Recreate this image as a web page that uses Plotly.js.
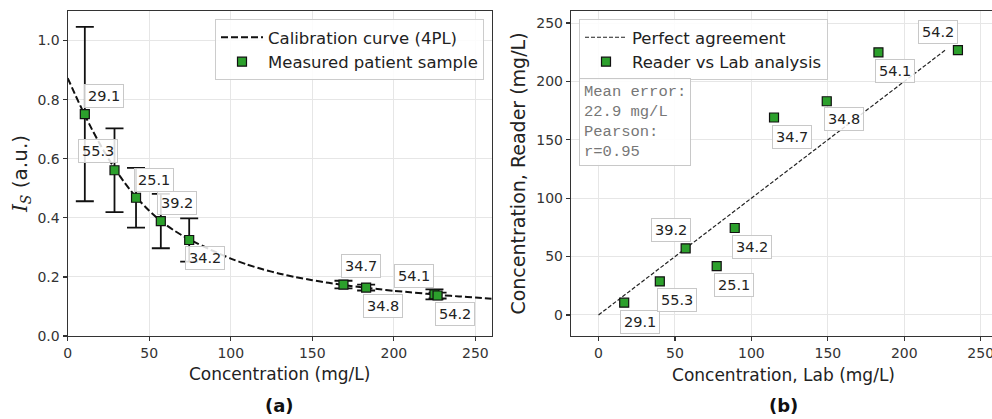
<!DOCTYPE html>
<html><head><meta charset="utf-8">
<script src="https://cdn.plot.ly/plotly-3.0.1.min.js"></script>
<style>html,body{margin:0;padding:0;overflow:hidden;background:#fff}#chart{width:996px;height:419px}</style>
</head><body><div id="chart"></div>
<script>
// ---- data ----
const sampleLabels = ['29.1','55.3','25.1','39.2','34.2','34.7','34.8','54.1','54.2'];
const readerConc   = [10.5, 28.7, 41.9, 57.1, 74.5, 169.1, 183.0, 224.9, 226.8];
const signalIS     = [0.751, 0.561, 0.468, 0.389, 0.325, 0.174, 0.164, 0.141, 0.137];
const signalErr    = [0.295, 0.142, 0.101, 0.092, 0.073, 0.013, 0.010, 0.017, 0.010];
const labConc      = [16.8, 40.1, 77.3, 57.0, 89.1, 114.8, 149.3, 183.1, 235.1];
const curveConc    = [0, 5, 10, 15, 20, 25, 30, 35, 40, 45, 50, 55, 60, 65, 70, 75, 80, 90, 100, 110, 120, 130, 140, 150, 160, 170, 180, 190, 200, 210, 220, 230, 240, 250, 260];
const curveSignal  = [0.873, 0.812, 0.753, 0.698, 0.647, 0.600, 0.557, 0.518, 0.483, 0.452, 0.424, 0.399, 0.377, 0.358, 0.341, 0.326, 0.312, 0.286, 0.262, 0.242, 0.225, 0.211, 0.199, 0.189, 0.180, 0.172, 0.165, 0.159, 0.153, 0.148, 0.143, 0.138, 0.134, 0.130, 0.126];
const perfectLine  = [0, 227];
const xTicksA = [0, 50, 100, 150, 200, 250];
const yTicksA = [0, 0.2, 0.4, 0.6, 0.8, 1.0];
const ticksB  = [0, 50, 100, 150, 200, 250];
const statsText = ['Mean error:', '22.9 mg/L', 'Pearson:', 'r=0.95'];

// ---- label placement (pixel offsets, style only) ----
const offsA = [[19,18],[-17,19],[18,18],[16,18],[16,-18],[18,19],[17,-18],[-20,18],[17,-18]];
const offsB = [[16,-19],[17,-19],[17,-19],[-15,18],[17,-19],[18,-19],[17,-18],[17,-19],[-20,18]];

const FONT = 'DejaVu Sans, sans-serif';
const GREEN = '#2ca02c';
const W = 996;

const traces = [
  {x: curveConc, y: curveSignal, xaxis:'x', yaxis:'y', mode:'lines', name:'Calibration curve (4PL)',
   line:{color:'#111', width:2, dash:'7px,3px', shape:'spline', smoothing:0.6}, legend:'legend'},
  {x: readerConc, y: signalIS, xaxis:'x', yaxis:'y', mode:'markers', name:'Measured patient sample',
   error_y:{type:'data', array: signalErr, visible:true, color:'#111', thickness:1.8, width:9},
   marker:{symbol:'square', size:9, color:GREEN, line:{color:'#111', width:1.2}}, legend:'legend'},
  {x: perfectLine, y: perfectLine, xaxis:'x2', yaxis:'y2', mode:'lines', name:'Perfect agreement',
   line:{color:'#222', width:1.2, dash:'4px,2px'}, legend:'legend2'},
  {x: labConc, y: readerConc, xaxis:'x2', yaxis:'y2', mode:'markers', name:'Reader vs Lab analysis',
   marker:{symbol:'square', size:9, color:GREEN, line:{color:'#111', width:1.2}}, legend:'legend2'}
];

const annotations = [];
sampleLabels.forEach((t, i) => {
  annotations.push({xref:'x', yref:'y', x: readerConc[i], y: signalIS[i], text: t, showarrow:false,
    xshift: offsA[i][0], yshift: offsA[i][1], font:{family:FONT, size:14.5, color:'#222'},
    bgcolor:'rgba(255,255,255,0.85)', bordercolor:'#c8c8c8', borderwidth:1, borderpad:3});
  annotations.push({xref:'x2', yref:'y2', x: labConc[i], y: readerConc[i], text: t, showarrow:false,
    xshift: offsB[i][0], yshift: offsB[i][1], font:{family:FONT, size:14.5, color:'#222'},
    bgcolor:'rgba(255,255,255,0.85)', bordercolor:'#c8c8c8', borderwidth:1, borderpad:3});
});
annotations.push({xref:'x2', yref:'y2', x:-13, y:203.3, xanchor:'left', yanchor:'top', align:'left',
  text: statsText.join('<br>'), showarrow:false,
  font:{family:'Liberation Mono, monospace', size:15.5, color:'#777'},
  bgcolor:'rgba(255,255,255,0.9)', bordercolor:'#c8c8c8', borderwidth:1, borderpad:4});
annotations.push({xref:'paper', yref:'paper', x:279.5/W, y:(336-405)/325, xanchor:'center', yanchor:'middle',
  text:'<b>(a)</b>', showarrow:false, font:{family:FONT, size:18, color:'#111'}});
annotations.push({xref:'paper', yref:'paper', x:783/W, y:(336-405)/325, xanchor:'center', yanchor:'middle',
  text:'<b>(b)</b>', showarrow:false, font:{family:FONT, size:18, color:'#111'}});

const axCommon = {showline:true, linecolor:'#333', linewidth:1.2, mirror:true, ticks:'outside', ticklen:4,
  tickcolor:'#333', tickwidth:1.2, showgrid:true, gridcolor:'#e6e6e6', gridwidth:1, zeroline:false,
  tickfont:{family:FONT, size:14, color:'#333'}, automargin:false};

const layout = {
  width: W, height: 419,
  margin:{l:0, r:0, t:11, b:83},
  paper_bgcolor:'#fff', plot_bgcolor:'#fff',
  font:{family:FONT},
  xaxis: Object.assign({}, axCommon, {domain:[67.7/W, 491.7/W], range:[0, 260], tickvals:xTicksA,
    title:{text:'Concentration (mg/L)', font:{family:FONT, size:17, color:'#222'}, standoff:8}}),
  yaxis: Object.assign({}, axCommon, {domain:[0,1], range:[0, 1.1], tickvals:yTicksA, tickformat:'.1f',
    title:{text:'<span style="font-family:DejaVu Serif"><i>I<sub>S</sub></i></span> (a.u.)', font:{family:FONT, size:20, color:'#222'}, standoff:4}}),
  xaxis2: Object.assign({}, axCommon, {domain:[571/W, 1], range:[-18, 260], tickvals:ticksB, anchor:'y2',
    title:{text:'Concentration, Lab (mg/L)', font:{family:FONT, size:17, color:'#222'}, standoff:9}}),
  yaxis2: Object.assign({}, axCommon, {domain:[0,1], range:[-18, 260.3], tickvals:ticksB, anchor:'x2',
    title:{text:'Concentration, Reader (mg/L)', font:{family:FONT, size:19, color:'#222'}, standoff:5}}),
  showlegend:true,
  legend:{x:484/W, xanchor:'right', y:(336-19)/325, yanchor:'top', bgcolor:'rgba(255,255,255,0.85)',
    bordercolor:'#cccccc', borderwidth:1, itemwidth:42, font:{family:FONT, size:16.5, color:'#222'}},
  legend2:{x:579/W, xanchor:'left', y:(336-19)/325, yanchor:'top', bgcolor:'rgba(255,255,255,0.85)',
    bordercolor:'#cccccc', borderwidth:1, itemwidth:42, font:{family:FONT, size:16.5, color:'#222'}},
  annotations: annotations
};

Plotly.newPlot('chart', traces, layout, {displayModeBar:false, staticPlot:true});
</script>
</body></html>
